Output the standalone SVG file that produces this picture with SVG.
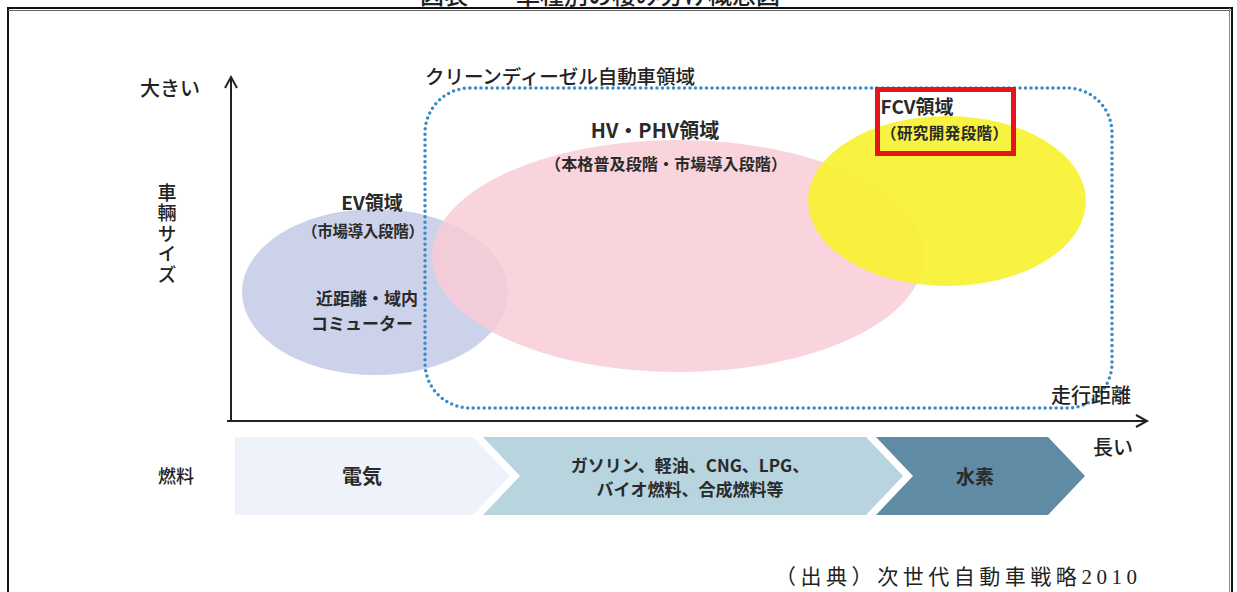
<svg xmlns="http://www.w3.org/2000/svg" width="1237" height="592" viewBox="0 0 1237 592">
<style>
.t{font-family:"Noto Sans CJK JP","Noto Sans",sans-serif;fill:#222;font-weight:500}
.b{font-weight:700;fill:#2a2a2a}
.ax{stroke:#222;stroke-width:2;fill:none}
.dot{fill:none;stroke:#3a8cc4;stroke-width:3.5;stroke-dasharray:0 5.5;stroke-linecap:round}
</style>
<rect width="1237" height="592" fill="#fff"/>
<rect x="8" y="8" width="1224" height="600" fill="none" stroke="#111" stroke-width="2"/>
<line x1="8" y1="10.5" x2="1232" y2="10.5" stroke="#666" stroke-width="1"/>
<line x1="1229.5" y1="8" x2="1229.5" y2="592" stroke="#888" stroke-width="1"/>
<text class="t" x="600" y="4" font-size="24" text-anchor="middle">図表　　車種別の棲み分け概念図</text>

<g id="ev"><ellipse cx="375" cy="292" rx="133" ry="83" fill="#c8cde9" opacity="0.9"/></g>
<g id="hv"><ellipse cx="678" cy="256" rx="246" ry="116" fill="#f8cdd6" opacity="0.85"/></g>
<g id="fcv"><ellipse cx="947" cy="201" rx="139" ry="85" fill="#f7f22c" opacity="0.9"/></g>

<g id="diesel"><rect x="425" y="88" width="687" height="320" rx="45" ry="45" class="dot"/>
<text class="t" x="425" y="84" font-size="19.5" textLength="270">クリーンディーゼル自動車領域</text></g>

<g id="axes">
<line class="ax" x1="231" y1="77" x2="231" y2="422"/>
<polyline class="ax" points="225,88 231,77 237,88"/>
<line class="ax" x1="227" y1="421" x2="1147" y2="421"/>
<polyline class="ax" points="1136,415 1147,421 1136,427"/>
</g>

<g id="labels">
<text class="t" x="140" y="96" font-size="20">大きい</text>
<text class="t" x="167" y="183" font-size="19" letter-spacing="1.5" style="writing-mode:vertical-rl">車輛サイズ</text>
<text class="t" x="1091" y="403" font-size="20" text-anchor="middle">走行距離</text>
<text class="t" x="1113" y="455" font-size="20" text-anchor="middle">長い</text>
<text class="t" x="176" y="483" font-size="18" text-anchor="middle">燃料</text>
</g>

<g id="ev-text">
<text class="t b" x="372" y="210" font-size="19" text-anchor="middle">EV領域</text>
<text class="t b" x="302" y="237" font-size="15.5" textLength="122">（市場導入段階）</text>
<text class="t b" x="367" y="305" font-size="17" text-anchor="middle">近距離・域内</text>
<text class="t b" x="362" y="330" font-size="17" text-anchor="middle">コミューター</text>
</g>
<g id="hv-text">
<text class="t b" x="655" y="138" font-size="20" text-anchor="middle">HV・PHV領域</text>
<text class="t b" x="545" y="170" font-size="16" textLength="242">（本格普及段階・市場導入段階）</text>
</g>
<g id="fcv-text">
<rect x="877.5" y="89.5" width="136" height="64" fill="none" stroke="#e8141b" stroke-width="5"/>
<text class="t b" x="917" y="114" font-size="19" text-anchor="middle">FCV領域</text>
<text class="t b" x="881" y="139" font-size="15.5" textLength="127">（研究開発段階）</text>
</g>

<g id="fuel">
<g id="f1"><polygon points="235,437 473,437 510,476 473,515 235,515" fill="#eef2fa"/>
<text class="t b" x="362" y="484" font-size="20" text-anchor="middle">電気</text></g>
<g id="f2"><polygon points="483,437 866,437 903,476 866,515 483,515 520,476" fill="#b7d4df"/>
<text class="t b" x="690" y="472" font-size="17" text-anchor="middle">ガソリン、軽油、CNG、LPG、</text>
<text class="t b" x="690" y="496" font-size="17" text-anchor="middle">バイオ燃料、合成燃料等</text></g>
<g id="f3"><polygon points="876,437 1048,437 1085,476 1048,515 876,515 913,476" fill="#5f8ba5"/>
<text class="t b" x="975" y="484" font-size="19" text-anchor="middle">水素</text></g>
</g>

<text x="775" y="584" font-size="21" textLength="362" style="font-family:'Liberation Serif','Noto Sans CJK JP',serif;fill:#222">（出典）次世代自動車戦略2010</text>
</svg>
